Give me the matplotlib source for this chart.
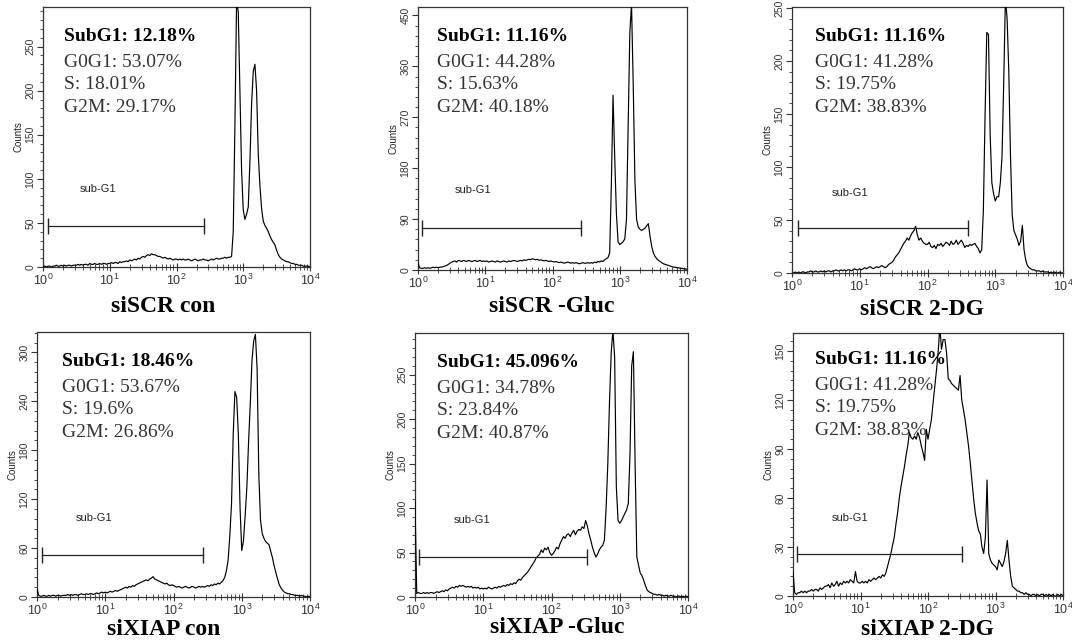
import numpy as np
import matplotlib
matplotlib.use("Agg")
import matplotlib.pyplot as plt
from matplotlib.ticker import MultipleLocator, AutoMinorLocator, LogLocator, NullFormatter

plt.rcParams['font.family'] = ['Liberation Sans', 'DejaVu Sans']
plt.rcParams['mathtext.fontset'] = 'custom'
plt.rcParams['mathtext.rm'] = 'Liberation Sans'
plt.rcParams['mathtext.default'] = 'regular'

# ---------------- data ----------------
titles = ["siSCR con", "siSCR -Gluc", "siSCR 2-DG",
          "siXIAP con", "siXIAP -Gluc", "siXIAP 2-DG"]
subg1 = ["SubG1: 12.18%", "SubG1: 11.16%", "SubG1: 11.16%",
         "SubG1: 18.46%", "SubG1: 45.096%", "SubG1: 11.16%"]
g0g1 = ["G0G1: 53.07%", "G0G1: 44.28%", "G0G1: 41.28%",
        "G0G1: 53.67%", "G0G1: 34.78%", "G0G1: 41.28%"]
s_phase = ["S: 18.01%", "S: 15.63%", "S: 19.75%",
           "S: 19.6%", "S: 23.84%", "S: 19.75%"]
g2m = ["G2M: 29.17%", "G2M: 40.18%", "G2M: 38.83%",
       "G2M: 26.86%", "G2M: 40.87%", "G2M: 38.83%"]

# histogram channels: log10 of fluorescence, 0..4 in steps of 0.025
log_channels = np.arange(161) * 0.025

scr_con = [
    0,1,0,1,1,0,1,1,2,1,1,2,1,2,1,2,2,1,2,2,
    2,3,2,3,2,3,3,2,4,3,3,4,3,3,4,3,4,4,3,4,
    4,5,4,5,5,4,6,5,6,6,7,6,8,7,8,9,8,10,9,11,
    12,11,13,14,13,15,14,14,13,12,12,11,10,11,10,9,10,9,8,9,
    9,8,9,8,9,8,8,9,8,7,8,9,8,7,8,8,9,8,8,7,
    8,9,8,9,10,9,9,10,10,11,10,11,11,12,40,160,300,290,200,110,
    65,54,60,68,120,185,222,230,200,128,92,66,52,47,44,40,35,31,28,25,
    19,14,11,9,8,7,6,6,5,4,4,3,3,2,2,2,1,1,1,1,
    0]
scr_gluc = [
    12,4,3,3,4,3,4,3,4,5,4,5,4,5,5,6,7,8,10,12,
    14,15,16,14,17,16,15,17,16,15,17,16,15,16,17,15,16,17,15,16,
    15,16,14,15,16,15,14,16,15,14,15,16,15,14,16,15,16,17,16,15,
    16,17,16,18,17,18,19,18,20,19,18,19,17,18,17,16,17,16,15,16,
    15,14,15,14,13,14,13,12,13,14,13,12,13,12,13,12,11,12,13,12,
    12,13,12,13,12,14,13,15,14,16,15,18,20,22,30,150,309,200,100,50,
    45,47,50,55,90,250,420,470,330,160,90,76,72,70,72,74,78,82,60,42,
    30,24,20,17,15,13,11,10,9,8,7,6,5,5,4,4,3,3,2,2,
    1]
scr_2dg = [
    0,0,1,0,1,0,1,1,0,1,1,2,1,1,2,1,1,2,1,2,
    1,2,2,1,2,2,3,2,2,3,2,3,2,3,3,2,3,4,3,3,
    4,3,4,5,4,5,6,5,4,5,6,5,6,7,6,5,6,8,9,10,
    12,15,17,19,22,25,28,30,33,31,35,38,40,44,36,31,33,30,28,27,
    27,29,25,24,26,23,27,26,28,25,27,29,28,26,30,27,28,31,27,29,
    31,28,24,26,25,27,26,27,28,25,23,19,22,60,150,227,225,130,85,75,
    68,72,72,85,110,180,260,240,190,110,55,40,36,32,26,30,45,22,12,7,
    5,4,3,3,2,2,2,1,2,1,1,1,0,1,0,1,0,0,1,0,
    0]
xiap_con = [
    10,2,1,1,2,1,1,2,1,2,2,1,2,2,1,2,2,2,3,2,
    3,2,3,3,2,3,4,3,3,4,3,4,4,3,4,5,4,5,6,5,
    6,5,6,7,6,7,8,7,8,9,10,11,12,11,13,12,14,13,15,16,
    17,18,19,20,21,20,22,23,25,22,21,20,19,18,17,16,17,15,14,15,
    14,13,12,13,12,11,12,13,12,11,12,13,12,11,12,13,12,13,12,13,
    14,13,15,14,16,15,17,16,18,20,24,32,45,75,114,200,252,245,200,110,
    57,69,100,135,190,237,290,314,322,280,150,94,78,72,68,66,64,56,48,38,
    30,22,15,11,8,6,5,4,4,3,3,2,2,2,1,2,1,1,0,1,
    0]
xiap_gluc = [
    109,4,5,4,4,5,4,5,4,5,5,4,5,6,5,6,7,6,8,7,
    9,10,11,10,12,11,13,12,13,12,11,12,11,12,10,11,10,11,9,10,
    9,10,9,11,10,9,10,11,10,12,11,12,13,12,14,13,15,14,16,15,
    18,20,19,22,24,26,28,31,34,37,40,44,46,48,53,50,55,53,56,50,
    47,49,52,56,54,60,64,68,66,70,71,68,72,75,70,74,76,75,79,77,
    86,80,71,64,56,50,45,48,53,56,58,64,100,150,220,275,300,270,124,86,
    83,86,90,94,98,105,160,260,276,150,45,36,27,24,19,13,8,6,5,4,
    3,3,2,3,2,2,1,2,1,1,2,1,1,0,1,1,0,1,0,1,
    0]
xiap_2dg = [
    15,2,1,2,2,3,2,3,2,3,3,4,3,4,4,3,5,4,5,6,
    6,7,5,8,6,7,9,6,8,7,9,8,9,8,10,9,8,15,9,8,
    8,9,8,9,8,10,9,10,11,10,11,12,11,13,12,14,18,22,26,31,
    36,44,51,60,67,73,79,86,92,100,97,96,98,96,100,97,92,88,83,102,
    96,102,108,118,128,138,149,165,151,157,157,149,133,132,130,129,128,127,126,135,
    120,114,108,100,92,82,71,60,51,45,40,38,30,26,36,71,26,22,20,19,
    18,16,22,20,18,21,26,34,22,12,6,5,4,3,3,2,2,1,2,1,
    1,0,1,1,0,1,0,1,1,0,1,0,1,0,1,0,0,1,0,1,
    0]
counts = [scr_con, scr_gluc, scr_2dg, xiap_con, xiap_gluc, xiap_2dg]

y_max = [295, 465, 251, 325, 297, 161]
y_step = [50, 90, 50, 60, 50, 30]

# sub-G1 gate markers
gate_lo = [1.19, 1.16, 1.22, 1.20, 1.16, 1.16]
gate_hi = [257, 263, 398, 269, 331, 324]
gate_y = [47, 74, 42.5, 52, 45, 25.6]
gate_label_x = [3.6, 3.5, 3.8, 3.7, 3.7, 3.8]
gate_label_y = [88, 141, 75.6, 97, 87, 48]

# ---------------- layout (pixels) ----------------
W, H = 1072, 644
boxes = [(43, 310, 7, 267), (418, 687, 7, 270), (792, 1063, 7, 273),
         (37, 310, 332, 597), (415, 688, 333, 597), (793, 1063, 333, 596)]
stat_off = [(21, 34), (19, 34), (23, 34), (25, 34), (22, 34), (22, 31)]
title_pos = [(163, 312), (552, 312), (922, 315), (164, 635), (557, 633), (927, 635)]

fig = plt.figure(figsize=(W / 100, H / 100), dpi=100)
fig.patch.set_facecolor('white')

serif = 'Liberation Serif'
for k in range(6):
    l, r, t, b = boxes[k]
    ax = fig.add_axes([l / W, 1 - b / H, (r - l) / W, (b - t) / H])
    x = 10 ** log_channels
    ax.plot(x, counts[k], color='black', lw=0.85, zorder=3)
    ax.set_xscale('log')
    ax.set_xlim(1, 1e4)
    ax.set_ylim(0, y_max[k])
    ax.yaxis.set_major_locator(MultipleLocator(y_step[k]))
    ax.yaxis.set_minor_locator(AutoMinorLocator(5))
    ax.xaxis.set_major_locator(LogLocator(base=10, numticks=10))
    ax.xaxis.set_minor_locator(LogLocator(base=10, subs=np.arange(2, 10), numticks=20))
    ax.xaxis.set_minor_formatter(NullFormatter())
    ax.tick_params(axis='y', which='major', direction='out', length=4, width=0.8,
                   color='#333333', labelcolor='#333333', labelsize=7.5,
                   labelrotation=90, pad=1.5)
    ax.tick_params(axis='y', which='minor', direction='out', length=2, width=0.6,
                   color='#333333')
    ax.tick_params(axis='x', which='major', direction='inout', length=6, width=0.8,
                   color='#333333', labelcolor='#333333', labelsize=9, pad=1)
    ax.tick_params(axis='x', which='minor', direction='inout', length=4, width=0.6,
                   color='#333333')
    for lab in ax.get_yticklabels():
        lab.set_va('center')
    for sp in ax.spines.values():
        sp.set_linewidth(0.9)
        sp.set_color('#333333')
    ax.set_ylabel('Counts', fontsize=7, labelpad=1.5, color='#222222')

    # gate
    ax.plot([gate_lo[k], gate_hi[k]], [gate_y[k], gate_y[k]], color='#222222',
            lw=0.9, marker='|', markersize=11, mew=1.0, zorder=4)
    ax.text(gate_label_x[k], gate_label_y[k], 'sub-G1', fontsize=8,
            color='#222222', ha='left', va='center')

    # stats text
    dx, dy = stat_off[k]
    lines = [subg1[k], g0g1[k], s_phase[k], g2m[k]]
    offs = [0, 26, 48, 71]
    for j, txt in enumerate(lines):
        ax.annotate(txt, xy=(0, 1), xycoords='axes fraction',
                    xytext=(dx, -(dy + offs[j])), textcoords='offset pixels',
                    family=serif, fontsize=14,
                    fontweight='bold' if j == 0 else 'normal',
                    color='black' if j == 0 else '#333333',
                    ha='left', va='baseline', zorder=5)

    tx, ty = title_pos[k]
    fig.text(tx / W, 1 - ty / H, titles[k], family=serif, fontsize=17,
             fontweight='bold', ha='center', va='baseline')

fig.savefig('out.png', dpi=100, facecolor='white')
